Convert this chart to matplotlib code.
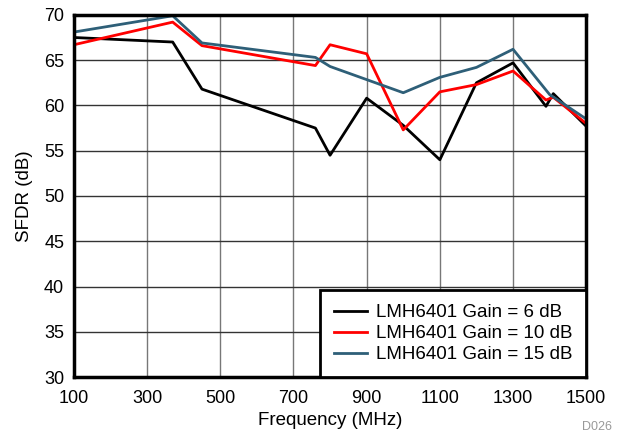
import matplotlib.pyplot as plt

plt.rcParams['font.family'] = ['Liberation Sans', 'DejaVu Sans']

freq_6 = [100, 370, 450, 760, 800, 900, 1000, 1100, 1200, 1300, 1390, 1410, 1500]
sfdr_6 = [67.5, 67.0, 61.8, 57.5, 54.5, 60.8, 57.8, 54.0, 62.5, 64.7, 59.9, 61.3, 57.7]

freq_10 = [100, 370, 450, 760, 800, 900, 1000, 1100, 1200, 1300, 1390, 1410, 1500]
sfdr_10 = [66.7, 69.2, 66.6, 64.4, 66.7, 65.7, 57.3, 61.5, 62.3, 63.8, 60.6, 60.9, 58.0]

freq_15 = [100, 370, 450, 760, 800, 1000, 1100, 1200, 1300, 1400, 1500]
sfdr_15 = [68.1, 69.9, 66.9, 65.3, 64.3, 61.4, 63.1, 64.2, 66.2, 61.2, 58.5]

labels = ['LMH6401 Gain = 6 dB', 'LMH6401 Gain = 10 dB', 'LMH6401 Gain = 15 dB']
x_ticks = [100, 300, 500, 700, 900, 1100, 1300, 1500]
y_ticks = [30, 35, 40, 45, 50, 55, 60, 65, 70]

fig = plt.figure(figsize=(6.21, 4.37), dpi=100)
ax = fig.add_axes([0.119, 0.137, 0.825, 0.829])

ax.plot(freq_6, sfdr_6, color='black', linewidth=2, label=labels[0])
ax.plot(freq_10, sfdr_10, color='#ff0000', linewidth=2, label=labels[1])
ax.plot(freq_15, sfdr_15, color='#2e5f78', linewidth=2, label=labels[2])

ax.set_xlim(100, 1500)
ax.set_ylim(30, 70)
ax.set_xticks(x_ticks)
ax.set_yticks(y_ticks)
ax.tick_params(labelsize=13, length=0)
ax.tick_params(axis='x', pad=9)
ax.tick_params(axis='y', pad=7)
ax.xaxis.grid(True, color='#777777', linewidth=1)
ax.yaxis.grid(True, color='#333333', linewidth=1)
ax.set_axisbelow(True)
for s in ax.spines.values():
    s.set_linewidth(2.5)

ax.set_xlabel('Frequency (MHz)', fontsize=13.5, labelpad=4)
ax.set_ylabel('SFDR (dB)', fontsize=13.5, labelpad=8)

leg = ax.legend(loc='lower right', fontsize=13.5, fancybox=False, framealpha=1,
                borderaxespad=0, handlelength=1.75, labelspacing=0.2,
                borderpad=0.75, handletextpad=0.45)
leg.get_frame().set_edgecolor('black')
leg.get_frame().set_linewidth(2)

fig.text(0.985, 0.01, 'D026', color='#999999', fontsize=9, ha='right', va='bottom')

fig.savefig('out.png', dpi=100)
